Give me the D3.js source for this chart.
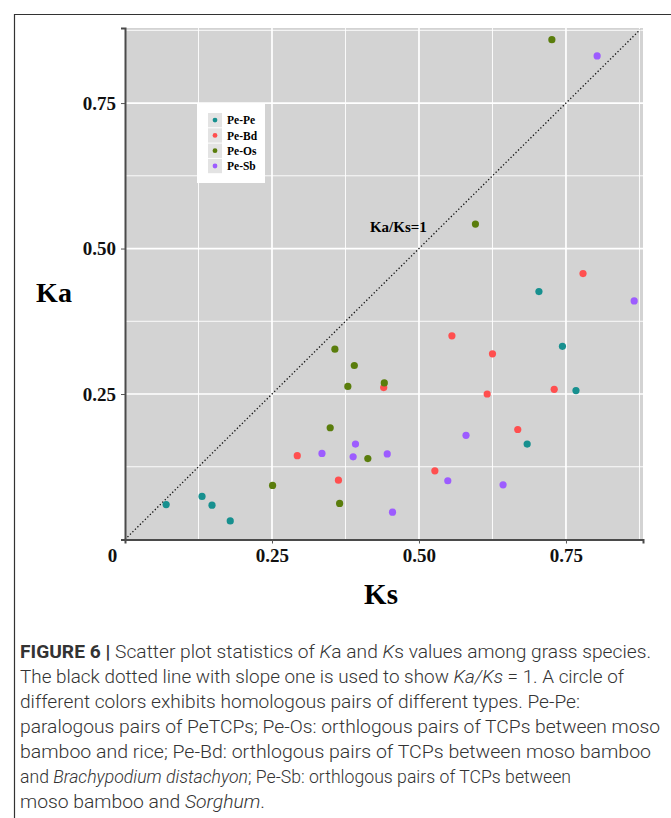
<!DOCTYPE html>
<html>
<head>
<meta charset="utf-8">
<script src="https://cdn.jsdelivr.net/npm/d3@7"></script>
<style>
	body { margin: 0; background: #fff; }
	svg { display: block; }
</style>
</head>
<body>
<div id="chart"></div>
<script>
// series (Ks on x, Ka on y)
var groups = ["Pe-Pe", "Pe-Bd", "Pe-Os", "Pe-Sb"];
var groupColors = ["#17908f", "#ff4f4f", "#5a7d0c", "#9d5cff"];

var pePeKs = [0.070, 0.131, 0.148, 0.179, 0.704, 0.744, 0.767, 0.684];
var pePeKa = [0.060, 0.074, 0.059, 0.032, 0.426, 0.332, 0.256, 0.164];

var peBdKs = [0.779, 0.556, 0.625, 0.440, 0.616, 0.730, 0.668, 0.527, 0.293, 0.363];
var peBdKa = [0.457, 0.350, 0.319, 0.261, 0.250, 0.258, 0.189, 0.118, 0.144, 0.102];

var peOsKs = [0.726, 0.596, 0.357, 0.390, 0.379, 0.441, 0.349, 0.413, 0.251, 0.365];
var peOsKa = [0.859, 0.542, 0.327, 0.299, 0.263, 0.269, 0.192, 0.139, 0.093, 0.062];

var peSbKs = [0.803, 0.866, 0.580, 0.446, 0.549, 0.643, 0.455, 0.392, 0.335, 0.388];
var peSbKa = [0.831, 0.410, 0.179, 0.147, 0.101, 0.094, 0.047, 0.164, 0.148, 0.142];

var xTicks = [0, 0.25, 0.5, 0.75];
var yTicks = [0.25, 0.5, 0.75];
var minorTicks = [0.125, 0.375, 0.625, 0.875];
var ksDomain = [0, 0.881];
var kaDomain = [0, 0.879];
var refLine = [0, 0.876]; // Ka/Ks = 1

var caption = [
	[{t: "FIGURE 6 | ", b: 1}, {t: "Scatter plot statistics of "}, {t: "K", i: 1}, {t: "a and "}, {t: "K", i: 1}, {t: "s values among grass species."}],
	[{t: "The black dotted line with slope one is used to show "}, {t: "Ka/Ks", i: 1}, {t: " = 1. A circle of"}],
	[{t: "different colors exhibits homologous pairs of different types. Pe-Pe:"}],
	[{t: "paralogous pairs of PeTCPs; Pe-Os: orthlogous pairs of TCPs between moso"}],
	[{t: "bamboo and rice; Pe-Bd: orthlogous pairs of TCPs between moso bamboo"}],
	[{t: "and "}, {t: "Brachypodium distachyon", i: 1}, {t: "; Pe-Sb: orthlogous pairs of TCPs between"}],
	[{t: "moso bamboo and "}, {t: "Sorghum", i: 1}, {t: "."}]
];
var captionWidths = [631, 604, 560, 640, 631, 551, 245];

var seriesKs = [pePeKs, peBdKs, peOsKs, peSbKs];
var seriesKa = [pePeKa, peBdKa, peOsKa, peSbKa];

var W = 671, H = 818;
var plot = {left: 125, right: 643, top: 28, bottom: 539.5};
var serif = "'Liberation Serif', 'Times New Roman', serif";

var svg = d3.select("#chart").append("svg")
	.attr("width", W)
	.attr("height", H);

// figure frame (left + top rules)
svg.append("path")
	.attr("d", "M14.5," + H + "V14.5H" + W)
	.attr("fill", "none")
	.attr("stroke", "#333")
	.attr("stroke-width", 1.2);

var x = d3.scaleLinear().domain(ksDomain).range([plot.left, plot.right]);
var y = d3.scaleLinear().domain(kaDomain).range([plot.bottom, plot.top]);
var color = d3.scaleOrdinal().domain(groups).range(groupColors);

// panel
svg.append("rect")
	.attr("x", plot.left).attr("y", plot.top)
	.attr("width", plot.right - plot.left)
	.attr("height", plot.bottom - plot.top)
	.attr("fill", "#d3d3d3");

var grid = svg.append("g").attr("stroke", "#fff");
grid.selectAll(".vminor").data(minorTicks).enter().append("line")
	.attr("x1", function(d) { return x(d); }).attr("x2", function(d) { return x(d); })
	.attr("y1", plot.top).attr("y2", plot.bottom).attr("stroke-width", 0.9);
grid.selectAll(".hminor").data(minorTicks).enter().append("line")
	.attr("y1", function(d) { return y(d); }).attr("y2", function(d) { return y(d); })
	.attr("x1", plot.left).attr("x2", plot.right).attr("stroke-width", 0.9);
grid.selectAll(".vmajor").data(yTicks).enter().append("line")
	.attr("x1", function(d) { return x(d); }).attr("x2", function(d) { return x(d); })
	.attr("y1", plot.top).attr("y2", plot.bottom).attr("stroke-width", 1.7);
grid.selectAll(".hmajor").data(yTicks).enter().append("line")
	.attr("y1", function(d) { return y(d); }).attr("y2", function(d) { return y(d); })
	.attr("x1", plot.left).attr("x2", plot.right).attr("stroke-width", 1.7);

// Ka/Ks = 1 reference
svg.append("line")
	.attr("x1", x(refLine[0])).attr("y1", y(refLine[0]))
	.attr("x2", x(refLine[1])).attr("y2", y(refLine[1]))
	.attr("stroke", "#111")
	.attr("stroke-width", 1.3)
	.attr("stroke-dasharray", "1.3,2.2");

svg.append("text")
	.attr("x", x(0.465)).attr("y", y(0.537))
	.attr("dy", "0.35em")
	.attr("text-anchor", "middle")
	.attr("font-family", serif).attr("font-weight", "bold").attr("font-size", 15)
	.text("Ka/Ks=1");

// points
var pts = [];
groups.forEach(function(g, i) {
	seriesKs[i].forEach(function(ks, j) { pts.push({group: g, ks: ks, ka: seriesKa[i][j]}); });
});
svg.append("g").selectAll("circle").data(pts).enter().append("circle")
	.attr("cx", function(d) { return x(d.ks); })
	.attr("cy", function(d) { return y(d.ka); })
	.attr("r", 3.6)
	.attr("fill", function(d) { return color(d.group); });

// axes
var yAxis = svg.append("g")
	.attr("transform", "translate(" + plot.left + ",0)")
	.call(d3.axisLeft(y).tickValues(yTicks).tickFormat(d3.format(".2f")).tickSize(4).tickPadding(5));
var xAxis = svg.append("g")
	.attr("transform", "translate(0," + plot.bottom + ")")
	.call(d3.axisBottom(x).tickValues(xTicks)
		.tickFormat(function(d) { return d === 0 ? "0" : d3.format(".2f")(d); })
		.tickSize(4).tickPadding(5));
[xAxis, yAxis].forEach(function(a) {
	a.select(".domain").attr("stroke", "#4a4a4a").attr("stroke-width", 2);
	a.selectAll(".tick line").attr("stroke", "#555");
	a.selectAll("text")
		.attr("font-family", serif).attr("font-weight", "bold")
		.attr("font-size", 19).attr("fill", "#111");
});
xAxis.selectAll(".tick").filter(function(d) { return d === 0; }).select("line").remove();
xAxis.selectAll(".tick text").filter(function(d) { return d === 0; }).attr("dx", -13);

svg.append("text")
	.attr("x", (plot.left + plot.right) / 2 - 3).attr("y", 604)
	.attr("text-anchor", "middle")
	.attr("font-family", serif).attr("font-weight", "bold").attr("font-size", 29)
	.text("Ks");
svg.append("text")
	.attr("x", 54).attr("y", 302)
	.attr("text-anchor", "middle")
	.attr("font-family", serif).attr("font-weight", "bold").attr("font-size", 28)
	.text("Ka");

// legend
var lg = svg.append("g").attr("transform", "translate(197,103)");
lg.append("rect").attr("width", 68).attr("height", 80).attr("fill", "#fff");
var row = lg.selectAll(".row").data(groups).enter().append("g")
	.attr("transform", function(d, i) { return "translate(11," + (10 + i * 15.3) + ")"; });
row.append("rect").attr("width", 14).attr("height", 14.3).attr("fill", "#e3e3e3");
row.append("circle").attr("cx", 7).attr("cy", 7.1).attr("r", 2.4)
	.attr("fill", function(d) { return color(d); });
row.append("text").attr("x", 19).attr("y", 7.3).attr("dy", "0.35em")
	.attr("font-family", serif).attr("font-weight", "bold").attr("font-size", 11.5)
	.text(function(d) { return d; });

// caption
var cap = svg.append("g")
	.attr("font-family", "Roboto, 'Liberation Sans', sans-serif")
	.attr("font-weight", 300)
	.attr("font-size", 18)
	.attr("fill", "#333");
caption.forEach(function(line, i) {
	var t = cap.append("text")
		.attr("x", 20).attr("y", 658 + i * 25)
		.attr("textLength", captionWidths[i])
		.attr("lengthAdjust", "spacingAndGlyphs");
	line.forEach(function(p) {
		var s = t.append("tspan").text(p.t);
		if (p.b) s.attr("font-weight", 700);
		if (p.i) s.attr("font-style", "italic");
	});
});
</script>
</body>
</html>
